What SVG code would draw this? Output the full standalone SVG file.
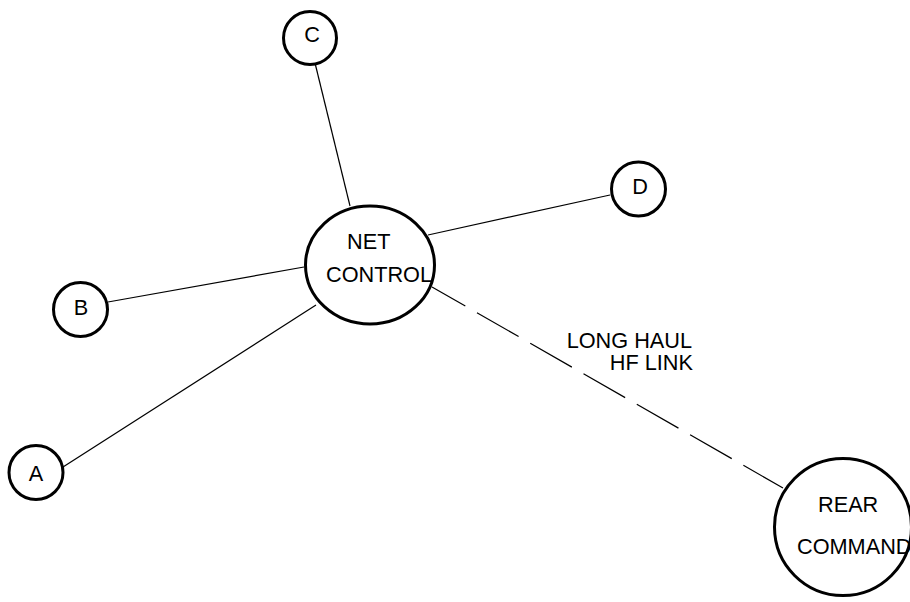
<svg xmlns="http://www.w3.org/2000/svg" width="910" height="602" viewBox="0 0 910 602">
  <style>
    .node { fill: #ffffff; stroke: #000000; stroke-width: 3; }
    .link { stroke: #000000; stroke-width: 1.2; fill: none; }
    .hf { stroke-dasharray: 48 13.4; stroke-dashoffset: 9.6; }
    text { font-family: "Liberation Sans", Arial, sans-serif; font-size: 21.7px; fill: #000000; }
    .mid { text-anchor: middle; }
  </style>
  <rect width="910" height="602" fill="#ffffff"/>

  <!-- connectors -->
  <g id="connectors">
    <line class="link" x1="315" y1="63" x2="350" y2="206"/>
    <line class="link" x1="610" y1="195" x2="428" y2="235"/>
    <line class="link" x1="108" y1="302" x2="304" y2="267"/>
    <line class="link" x1="63" y1="467" x2="316" y2="305"/>
    <line class="link hf" x1="432" y1="287" x2="783" y2="488"/>
  </g>

  <g id="net-control">
    <ellipse class="node" cx="370" cy="265" rx="64.5" ry="59"/>
    <text x="347" y="249">NET</text>
    <text x="326" y="282">CONTROL</text>
  </g>

  <g id="node-c">
    <circle class="node" cx="310" cy="38" r="26.5"/>
    <text class="mid" x="312" y="42">C</text>
  </g>

  <g id="node-d">
    <circle class="node" cx="638.5" cy="189" r="27"/>
    <text class="mid" x="640" y="194">D</text>
  </g>

  <g id="node-b">
    <circle class="node" cx="80.5" cy="309.5" r="27"/>
    <text class="mid" x="81" y="315">B</text>
  </g>

  <g id="node-a">
    <circle class="node" cx="36" cy="472.5" r="27"/>
    <text class="mid" x="36" y="481">A</text>
  </g>

  <g id="rear-command">
    <circle class="node" cx="843" cy="527" r="68.5"/>
    <text x="818" y="512">REAR</text>
    <text x="797" y="554">COMMAND</text>
  </g>

  <g id="link-label">
    <text x="692" y="348" text-anchor="end">LONG HAUL</text>
    <text x="693" y="370" text-anchor="end">HF LINK</text>
  </g>
</svg>
